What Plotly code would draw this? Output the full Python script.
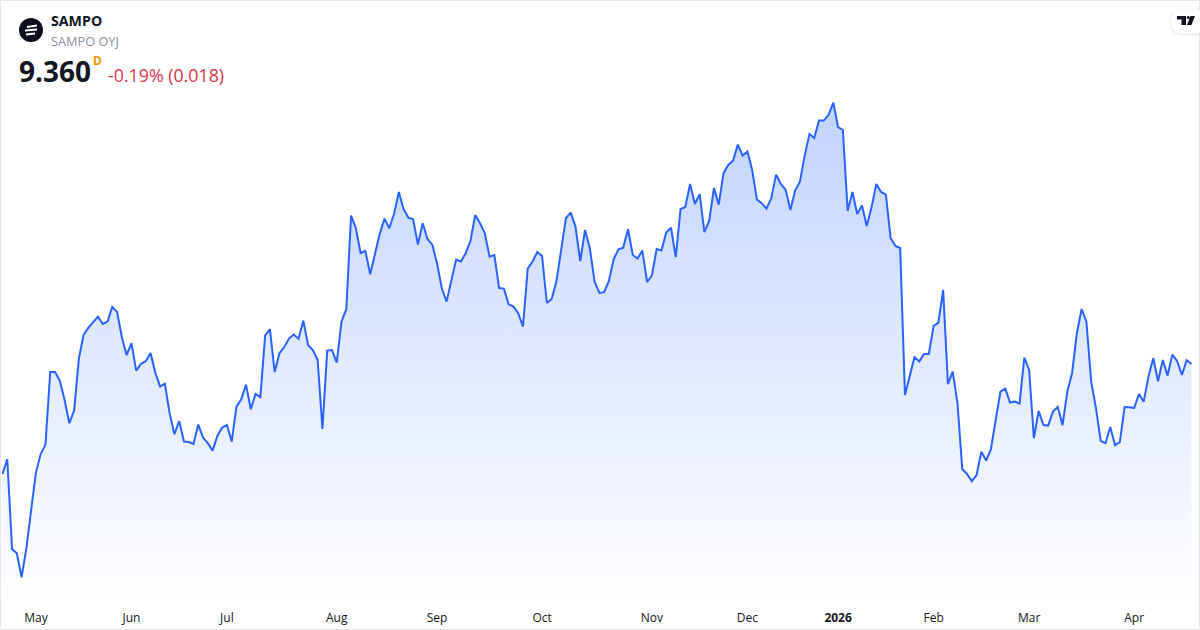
import plotly.graph_objects as go

# price, one value per trading day
prices = [
    8.81, 8.884, 8.435, 8.414, 8.294, 8.439, 8.63, 8.817, 8.91, 8.957,
    9.32, 9.32, 9.277, 9.18, 9.064, 9.127, 9.389, 9.507, 9.542, 9.569,
    9.597, 9.56, 9.572, 9.645, 9.62, 9.494, 9.404, 9.464, 9.327, 9.36,
    9.374, 9.415, 9.317, 9.247, 9.262, 9.114, 9.009, 9.075, 8.972, 8.97,
    8.96, 9.057, 8.992, 8.964, 8.927, 9.0, 9.042, 9.055, 8.972, 9.147,
    9.184, 9.257, 9.134, 9.21, 9.194, 9.502, 9.534, 9.32, 9.414, 9.444,
    9.487, 9.507, 9.485, 9.577, 9.454, 9.43, 9.38, 9.035, 9.427, 9.43,
    9.367, 9.573, 9.634, 10.102, 10.039, 9.915, 9.925, 9.809, 9.905, 10.01,
    10.087, 10.039, 10.11, 10.22, 10.134, 10.092, 10.084, 9.957, 10.064, 9.985,
    9.957, 9.864, 9.739, 9.672, 9.777, 9.882, 9.872, 9.914, 9.975, 10.105,
    10.064, 10.015, 9.897, 9.905, 9.74, 9.737, 9.659, 9.647, 9.614, 9.547,
    9.837, 9.872, 9.92, 9.9, 9.665, 9.685, 9.772, 9.922, 10.089, 10.117,
    10.047, 9.874, 10.03, 9.939, 9.772, 9.715, 9.719, 9.775, 9.884, 9.934,
    9.942, 10.034, 9.905, 9.887, 9.928, 9.77, 9.802, 9.935, 9.928, 10.017,
    10.042, 9.894, 10.134, 10.145, 10.26, 10.16, 10.209, 10.019, 10.075, 10.24,
    10.157, 10.314, 10.355, 10.377, 10.457, 10.402, 10.422, 10.33, 10.182, 10.164,
    10.137, 10.189, 10.307, 10.26, 10.232, 10.13, 10.227, 10.272, 10.402, 10.51,
    10.49, 10.577, 10.577, 10.605, 10.667, 10.544, 10.53, 10.125, 10.22, 10.11,
    10.152, 10.05, 10.144, 10.26, 10.22, 10.207, 9.989, 9.95, 9.94, 9.205,
    9.3, 9.394, 9.373, 9.41, 9.41, 9.55, 9.567, 9.73, 9.259, 9.322,
    9.164, 8.835, 8.81, 8.774, 8.805, 8.922, 8.877, 8.934, 9.08, 9.222,
    9.237, 9.167, 9.172, 9.162, 9.392, 9.33, 8.989, 9.125, 9.055, 9.052,
    9.122, 9.145, 9.054, 9.222, 9.314, 9.514, 9.635, 9.572, 9.272, 9.139,
    8.975, 8.964, 9.045, 8.954, 8.969, 9.145, 9.144, 9.14, 9.21, 9.172,
    9.297, 9.389, 9.274, 9.38, 9.302, 9.407, 9.375, 9.305, 9.379, 9.36,
]

# bar number of the first session of each month
tick_bars = [7, 27, 47, 70, 91, 113, 136, 156, 175, 195, 215, 237]
tick_labels = ["May", "Jun", "Jul", "Aug", "Sep", "Oct", "Nov", "Dec", "<b>2026</b>", "Feb", "Mar", "Apr"]

W, H, BOTTOM = 1200, 630, 25
PLOT_H = H - BOTTOM
FONT = "Open Sans"


def px(x):
    return x / W


def py(y):
    return 1 - y / PLOT_H


def pts(*xy):
    # polygon given in page pixels, as a paper-coordinate svg path
    head = " L".join(f"{px(x):.5f},{py(y):.5f}" for x, y in xy)
    return f"M{head} Z"


def label(x, y, text, size, color, anchor="left"):
    fig.add_annotation(
        x=px(x), y=py(y), xref="paper", yref="paper", text=text, showarrow=False,
        xanchor=anchor, yanchor="middle", align="left", borderpad=0, borderwidth=0,
        font=dict(family=FONT, size=size, color=color),
    )


def glyph(path, color):
    fig.add_shape(type="path", path=path, xref="paper", yref="paper",
                  fillcolor=color, line_width=0, layer="above")


def pill(x0, y0, x1, y1, color):
    # left side rounded, right side runs off the page
    r = (y1 - y0) / 2
    cy = (y0 + y1) / 2
    path = (
        f"M{px(x1)},{py(y0)} L{px(x0 + r)},{py(y0)} "
        f"Q{px(x0)},{py(y0)} {px(x0)},{py(cy)} "
        f"Q{px(x0)},{py(y1)} {px(x0 + r)},{py(y1)} L{px(x1)},{py(y1)} Z"
    )
    glyph(path, color)


fig = go.Figure()
fig.add_trace(go.Scatter(
    x=list(range(len(prices))),
    y=prices,
    mode="lines",
    line=dict(color="#2962FF", width=2),
    fill="tozeroy",
    fillgradient=dict(
        type="vertical",
        start=8.155,
        stop=10.667,
        colorscale=[[0, "rgba(41,98,255,0)"], [1, "rgba(41,98,255,0.28)"]],
    ),
    hoverinfo="skip",
    showlegend=False,
))

fig.update_layout(
    width=W,
    height=H,
    margin=dict(l=0, r=0, t=0, b=BOTTOM),
    paper_bgcolor="white",
    plot_bgcolor="white",
    xaxis=dict(
        range=[-0.524, 250.79],
        tickmode="array",
        tickvals=tick_bars,
        ticktext=tick_labels,
        showgrid=False,
        zeroline=False,
        showline=False,
        ticks="",
        ticklabelstandoff=4,
        tickfont=dict(family=FONT, size=12, color="#131722"),
    ),
    yaxis=dict(range=[8.155, 11.18], visible=False),
)

# frame
fig.add_shape(type="rect", x0=px(0.5), x1=px(1199.5), y0=py(0.5), y1=py(629.5),
              xref="paper", yref="paper", line=dict(color="#E6E6E6", width=1), layer="above")

# header: logo and quote
fig.add_shape(type="circle", x0=px(19), x1=px(43), y0=py(18), y1=py(42),
              xref="paper", yref="paper", fillcolor="#0B0F1E", line_width=0)
glyph(pts((27, 26), (37, 24.5), (37, 26.5), (27, 28)), "white")
glyph(pts((25, 29.5), (37, 28.5), (37, 30.5), (25, 31.5)), "white")
glyph(pts((26, 33.5), (35, 32.5), (35, 34.5), (26, 35.5)), "white")

label(51, 21, "<b>SAMPO</b>", 14.2, "#131722")
label(51, 41, "SAMPO OYJ", 12.75, "#8C8F99")
label(19, 71, "<b>9.360</b>", 28, "#131722")
label(93, 61, "<b>D</b>", 12, "#FF9800")
label(108, 74.5, "-0.19% (0.018)", 17.8, "#D8344A")

# TradingView badge
for grow, alpha in [(3, 0.012), (2, 0.018), (1, 0.025)]:
    pill(1171 - grow, 10 - grow + 1, 1201, 33 + grow + 1, f"rgba(0,0,0,{alpha})")
pill(1171, 10, 1201, 33, "white")
glyph(pts((1177, 16), (1186, 16), (1186, 25), (1181.5, 25), (1181.5, 19.5), (1177, 19.5)), "#131722")
glyph(pts((1190.5, 16), (1195, 16), (1191.5, 25), (1187, 25)), "#131722")
fig.add_shape(type="circle", x0=px(1186.8), x1=px(1189.8), y0=py(16), y1=py(19),
              xref="paper", yref="paper", fillcolor="#131722", line_width=0, layer="above")

fig.write_html("out.html", config=dict(displayModeBar=False), post_script="document.body.style.margin='0';")
